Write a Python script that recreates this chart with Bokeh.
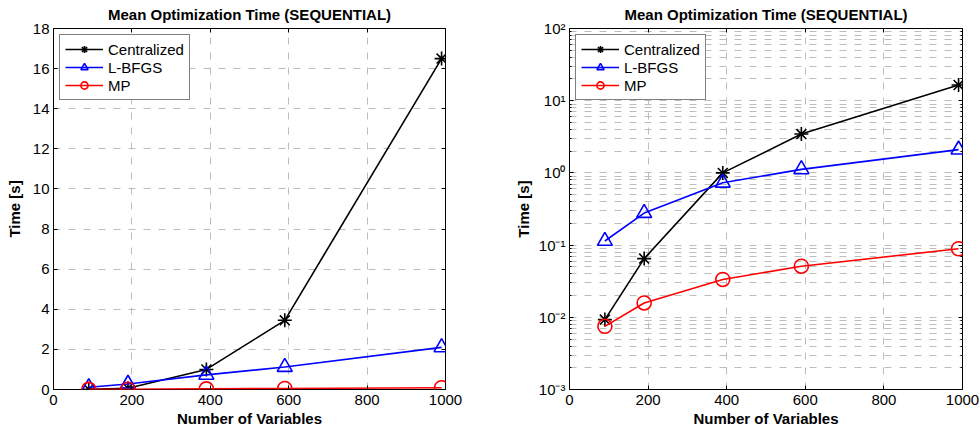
from bokeh.plotting import figure
from bokeh.layouts import row
from bokeh.models import (Range1d, FixedTicker, LinearAxis, Legend,
                          CustomJSTickFormatter)
from bokeh.embed import file_html
from bokeh.resources import INLINE

# ---- data ----
n_vars = [90, 190, 390, 590, 990]
centralized = [0.0093, 0.065, 1.0, 3.45, 16.5]
lbfgs = [0.114, 0.278, 0.73, 1.12, 2.1]
mp = [0.0075, 0.0158, 0.0334, 0.051, 0.089]

series_names = ["Centralized", "L-BFGS", "MP"]
x_ticks = [0, 200, 400, 600, 800, 1000]
lin_y_ticks = [0, 2, 4, 6, 8, 10, 12, 14, 16, 18]
log_y_ticks = [1e-3, 1e-2, 1e-1, 1e0, 1e1, 1e2]

TITLE = "Mean Optimization Time (SEQUENTIAL)"
XLABEL = "Number of Variables"
YLABEL = "Time [s]"

FONT = "Liberation Sans"
GRID_COLOR = "#bdbdbd"
GRID_DASH = "7 8"

SUP_JS = """
const sup = {'-':'\\u207b','0':'\\u2070','1':'\\u00b9','2':'\\u00b2','3':'\\u00b3',
             '4':'\\u2074','5':'\\u2075','6':'\\u2076','7':'\\u2077','8':'\\u2078','9':'\\u2079'};
const e = Math.round(Math.log10(tick));
return '10' + String(e).split('').map(c => sup[c]).join('');
"""


def style_axis(ax, labels=True, minor=False, label_standoff=2):
    ax.axis_line_color = None
    ax.major_tick_in = 4
    ax.major_tick_out = 0
    ax.major_tick_line_color = "black"
    ax.major_tick_line_width = 1
    if minor:
        ax.minor_tick_in = 2
        ax.minor_tick_out = 0
        ax.minor_tick_line_color = "black"
    else:
        ax.minor_tick_line_color = None
    ax.major_label_text_font = FONT
    ax.major_label_text_font_size = "15px"
    ax.major_label_text_color = "black"
    ax.major_label_standoff = 5
    ax.axis_label_text_font = FONT
    ax.axis_label_text_font_size = "15px"
    ax.axis_label_text_font_style = "bold"
    ax.axis_label_text_color = "black"
    ax.axis_label_standoff = label_standoff
    if not labels:
        ax.major_label_text_font_size = "1px"
        ax.major_label_text_color = None
        ax.major_label_standoff = 0
        ax.axis_label = None


def make_fig(log, min_left, min_right, ylab_standoff):
    kw = dict(width=490, height=430, output_backend="svg", toolbar_location=None,
              x_range=Range1d(0, 1000),
              min_border_left=min_left, min_border_right=min_right,
              min_border_top=28, min_border_bottom=41)
    if log:
        p = figure(y_axis_type="log", y_range=Range1d(1e-3, 1e2), **kw)
    else:
        p = figure(y_range=Range1d(0, 18), **kw)
    p.title.text = TITLE
    p.title.align = "center"
    p.title.vertical_align = "top"
    p.title.text_font = FONT
    p.title.text_font_size = "15px"
    p.title.text_font_style = "bold"
    p.title.text_color = "black"
    p.title.standoff = 8
    p.outline_line_color = "black"
    p.outline_line_width = 1
    p.background_fill_color = "white"
    p.border_fill_color = "white"

    xt = FixedTicker(ticks=x_ticks)
    p.xaxis[0].ticker = xt
    p.xaxis[0].axis_label = XLABEL
    style_axis(p.xaxis[0])

    if log:
        minors = [m * t for t in log_y_ticks[:-1] for m in range(2, 10)]
        yt = FixedTicker(ticks=log_y_ticks, minor_ticks=minors)
        p.yaxis[0].formatter = CustomJSTickFormatter(code=SUP_JS)
    else:
        yt = FixedTicker(ticks=lin_y_ticks)
    p.yaxis[0].ticker = yt
    p.yaxis[0].axis_label = YLABEL
    style_axis(p.yaxis[0], minor=log, label_standoff=ylab_standoff)
    p.yaxis[0].major_label_standoff = 4

    # box ticks on top and right (labels hidden)
    top = LinearAxis(ticker=xt)
    style_axis(top, labels=False)
    p.add_layout(top, "above")
    right = LinearAxis(ticker=yt)
    style_axis(right, labels=False, minor=log)
    if log:
        right.formatter = CustomJSTickFormatter(code=SUP_JS)
    p.add_layout(right, "right")

    p.xgrid.ticker = xt
    p.ygrid.ticker = yt
    for g in (p.xgrid[0], p.ygrid[0]):
        g.grid_line_color = GRID_COLOR
        g.grid_line_dash = GRID_DASH
        g.grid_line_width = 1
    if log:
        p.ygrid[0].minor_grid_line_color = GRID_COLOR
        p.ygrid[0].minor_grid_line_dash = GRID_DASH

    specs = [(centralized, "black", "asterisk", 14),
             (lbfgs, "blue", "triangle", 15),
             (mp, "red", "circle", 14)]
    items = []
    for name, (ys, col, mk, sz) in zip(series_names, specs):
        r1 = p.line(n_vars, ys, line_color=col, line_width=1.6)
        r2 = p.scatter(n_vars, ys, marker=mk, size=sz, line_color=col,
                       line_width=1.6, fill_alpha=0)
        items.append((name, [r1, r2]))
    leg = Legend(items=items, location="top_left")
    leg.label_text_font = FONT
    leg.label_text_font_size = "15px"
    leg.label_text_color = "black"
    leg.glyph_width = 38
    leg.glyph_height = 18
    leg.label_height = 18
    leg.label_standoff = 5
    leg.spacing = 0
    leg.padding = 5
    leg.margin = 6
    leg.border_line_color = "black"
    leg.border_line_width = 1.5
    leg.background_fill_alpha = 1
    p.add_layout(leg, "center")
    return p


p1 = make_fig(False, 53, 45, 7)
p2 = make_fig(True, 79, 18, 4)
layout = row(p1, p2)

open("out.html", "w").write(file_html(layout, INLINE))
